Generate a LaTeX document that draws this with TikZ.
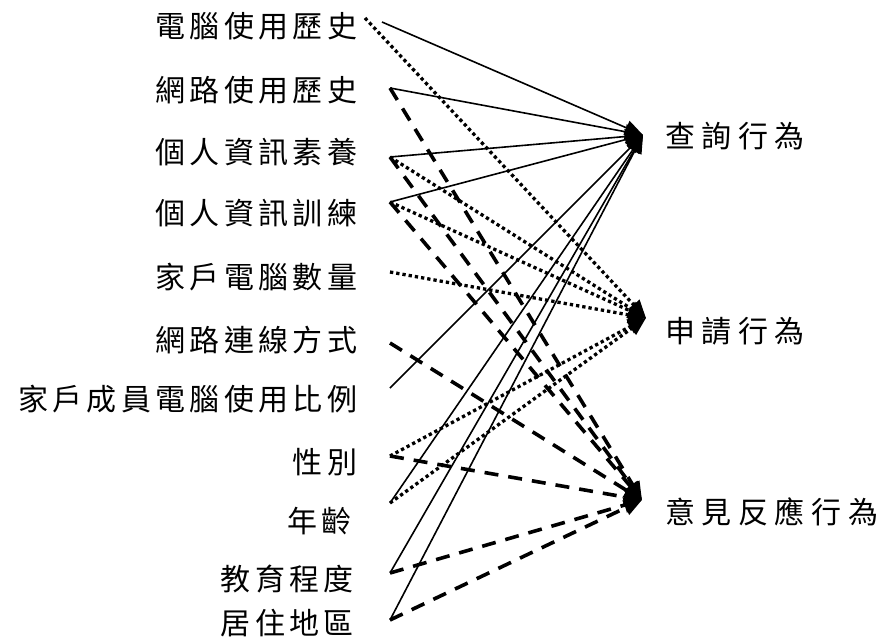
\documentclass[tikz,border=0pt]{standalone}
\usepackage{fontspec}
\newfontfamily\cjk{Noto Sans CJK TC}[LetterSpace=14.5]
\newfontfamily\cjkr{Noto Sans CJK TC}[LetterSpace=22]
\usetikzlibrary{arrows.meta}
\begin{document}
\begin{tikzpicture}[x=1pt,y=-1pt,
  lbl/.style={font=\cjk\fontsize{30}{32}\selectfont, inner sep=0pt, anchor=east},
  rlbl/.style={font=\cjkr\fontsize{30}{32}\selectfont, inner sep=0pt, anchor=west},
  tip/.style={-{Triangle[length=18pt,width=15pt]}},
  solidln/.style={tip, line width=1.6pt},
  dotln/.style={tip, line width=3.3pt, dash pattern=on 3.3pt off 3pt},
  dashln/.style={tip, line width=3.6pt, dash pattern=on 14pt off 10pt}]
\useasboundingbox (0,0) rectangle (883,640);
% left labels
\node[lbl] (l1) at (357.5,26) {電腦使用歷史};
\node[lbl] (l2) at (357.5,90) {網路使用歷史};
\node[lbl] (l3) at (357.5,152) {個人資訊素養};
\node[lbl] (l4) at (357.5,213) {個人資訊訓練};
\node[lbl] (l5) at (357.5,277) {家戶電腦數量};
\node[lbl] (l6) at (357.5,340) {網路連線方式};
\node[lbl] (l7) at (357.5,399) {家戶成員電腦使用比例};
\node[lbl] (l8) at (357.5,462) {性別};
\node[lbl] (l9) at (352,521) {年齡};
\node[lbl] (l10) at (354,579) {教育程度};
\node[lbl] (l11) at (354,623) {居住地區};
% right labels
\node[rlbl] (r1) at (665,136) {查詢行為};
\node[rlbl] (r2) at (665,331) {申請行為};
\node[rlbl] (r3) at (665,512) {意見反應行為};
% line end points
\coordinate (v1s) at (382,22);
\coordinate (v1d) at (365,18);
\coordinate (v2) at (390,88);
\coordinate (v3) at (390,157);
\coordinate (v4) at (390,202);
\coordinate (v5) at (390,272);
\coordinate (v6) at (390,343);
\coordinate (v7) at (390,388);
\coordinate (v8) at (390,456);
\coordinate (v9) at (390,503);
\coordinate (v10) at (390,573);
\coordinate (v11) at (390,620);
\coordinate (tq) at (643,135);
\coordinate (ta) at (646,318);
\coordinate (to) at (642,500);
% solid -> 查詢行為
\foreach \v in {v1s,v2,v3,v4,v7,v9,v10,v11}
  \draw[solidln] (\v) -- (tq);
% dotted -> 申請行為
\foreach \v in {v1d,v3,v4,v5,v8,v9}
  \draw[dotln] (\v) -- (ta);
% dashed -> 意見反應行為
\foreach \v in {v2,v3,v4,v6,v8,v10,v11}
  \draw[dashln] (\v) -- (to);
\end{tikzpicture}
\end{document}
